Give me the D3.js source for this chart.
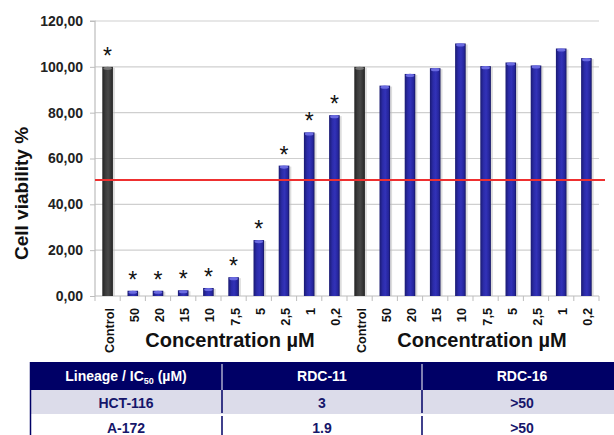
<!DOCTYPE html>
<html><head><meta charset="utf-8">
<script src="https://cdn.jsdelivr.net/npm/d3@7"></script>
<style>
body{margin:0;background:#fff;}
svg{display:block;font-family:"Liberation Sans",Arial,sans-serif;}
</style></head>
<body>
<svg id="c" width="614" height="435"></svg>
<script>
const categories = ["Control","50","20","15","10","7,5","5","2,5","1","0,2"];
const rdc11 = [100,2.3,2.3,2.5,3.5,8.2,24.4,56.9,71.4,78.9];
const rdc16 = [100,91.8,96.9,99.4,110.2,100.3,101.9,100.6,108.0,103.8];
const stars11 = [true,true,true,true,true,true,true,true,true,true];
const yTicks = [0,20,40,60,80,100,120];
const ic50Line = 50.6;
const groupTitle = "Concentration µM";
const tableHeader = ["Lineage / IC", "RDC-11", "RDC-16"];
const tableRows = [["HCT-116","3",">50"],["A-172","1.9",">50"]];

const svg = d3.select("#c");
const m = {l:95, r:599, t:21, b:296};

const items = [];
categories.forEach((c,i)=>items.push({key:"a"+i,cat:c,v:rdc11[i],star:stars11[i],ctrl:i===0}));
categories.forEach((c,i)=>items.push({key:"b"+i,cat:c,v:rdc16[i],star:false,ctrl:i===0}));

const x = d3.scaleBand().domain(items.map(d=>d.key)).range([m.l,m.r]).paddingInner(0.58).paddingOuter(0.29);
const xb = d3.scaleBand().domain(items.map(d=>d.key)).range([m.l,m.r]);
const y = d3.scaleLinear().domain([0,120]).range([m.b,m.t]);

const defs = svg.append("defs");
function grad(id, stops){
  const g = defs.append("linearGradient").attr("id",id).attr("x1","0").attr("x2","1").attr("y1","0").attr("y2","0");
  stops.forEach(s=>g.append("stop").attr("offset",s[0]).attr("stop-color",s[1]));
}
grad("gBlue",[[0,"#1a1a72"],[0.3,"#2b2ba8"],[0.55,"#3232b8"],[0.85,"#24249a"],[1,"#15155e"]]);
grad("gGray",[[0,"#222"],[0.3,"#3c3c3c"],[0.55,"#484848"],[0.85,"#333"],[1,"#1c1c1c"]]);

// gridlines
svg.append("g").selectAll("line").data(yTicks.filter(t=>t>0)).join("line")
  .attr("x1",m.l).attr("x2",m.r).attr("y1",d=>y(d)).attr("y2",d=>y(d))
  .attr("stroke","#cfcfcf").attr("stroke-width",1.2);

// y axis
const ya = svg.append("g").attr("transform",`translate(${m.l},0)`)
  .call(d3.axisLeft(y).tickValues(yTicks).tickSize(5).tickPadding(7).tickFormat(d=>d3.format(".2f")(d).replace(".",",")));
ya.attr("font-size",null).attr("font-family",null);
ya.select(".domain").attr("stroke","#bdbdbd").attr("stroke-width",1.2).attr("d",`M-5,${m.t}H0V${m.b}`);
ya.selectAll(".tick line").attr("stroke","#bdbdbd");
ya.selectAll(".tick text").style("font-size","14px").style("font-weight","bold").attr("fill","#222")
  .style("font-family","'Liberation Sans', Arial, sans-serif");

// x axis
const xa = svg.append("g").attr("transform",`translate(0,${m.b})`);
xa.append("line").attr("x1",m.l).attr("x2",m.r).attr("y1",0).attr("y2",0).attr("stroke","#bdbdbd").attr("stroke-width",1.2);
xa.selectAll("line.tk").data(d3.range(21)).join("line").attr("class","tk")
  .attr("x1",i=>m.l+i*xb.bandwidth()).attr("x2",i=>m.l+i*xb.bandwidth()).attr("y1",0).attr("y2",5)
  .attr("stroke","#bdbdbd");
xa.selectAll("text").data(items).join("text")
  .attr("transform",d=>`translate(${xb(d.key)+xb.bandwidth()/2+1.5},12) rotate(-90)`)
  .attr("text-anchor","end").attr("dy","0.35em")
  .style("font-size","12.7px").style("font-weight","bold").attr("fill","#111")
  .text(d=>d.cat);

// bars
const bars = svg.append("g");
bars.selectAll("rect.sh").data(items).join("rect").attr("class","sh")
  .attr("x",d=>x(d.key)+2).attr("y",d=>y(d.v)+1).attr("width",x.bandwidth()).attr("height",d=>m.b-y(d.v)-1)
  .attr("fill","#bbb").attr("opacity",0.5);
bars.selectAll("rect.b").data(items).join("rect").attr("class","b")
  .attr("x",d=>x(d.key)).attr("y",d=>y(d.v)).attr("width",x.bandwidth()).attr("height",d=>m.b-y(d.v))
  .attr("fill",d=>d.ctrl?"url(#gGray)":"url(#gBlue)");
bars.selectAll("ellipse").data(items).join("ellipse")
  .attr("cx",d=>x(d.key)+x.bandwidth()/2).attr("cy",d=>y(d.v)+1.5)
  .attr("rx",x.bandwidth()/2-1).attr("ry",1.6)
  .attr("fill",d=>d.ctrl?"#777":"#6a6ae0");

// stars
svg.append("g").selectAll("text").data(items.filter(d=>d.star)).join("text")
  .attr("x",d=>x(d.key)+x.bandwidth()/2).attr("y",d=>y(d.v)-3)
  .attr("text-anchor","middle").style("font-size","23px").attr("fill","#111")
  .text("*");

// red line
svg.append("line").attr("x1",m.l).attr("x2",605).attr("y1",y(ic50Line)).attr("y2",y(ic50Line))
  .attr("stroke","#ee3030").attr("stroke-width",2);

// y title
svg.append("text").attr("transform",`translate(28,${(127+260)/2}) rotate(-90)`)
  .attr("text-anchor","middle").style("font-size","19px").style("font-weight","bold").attr("fill","#111")
  .text("Cell viability %");

// group titles
[0,1].forEach(g=>{
  const k0 = items[g*10].key, k1 = items[g*10+9].key;
  const cx = (xb(k0)+xb(k1)+xb.bandwidth())/2 + 9;
  svg.append("text").attr("x",cx).attr("y",347).attr("text-anchor","middle")
    .style("font-size","20px").style("font-weight","bold").attr("fill","#111").text(groupTitle);
});

// table
const cols = [30,222,422,622];
const tb = svg.append("g");
const hy0=362, hy1=390, r1=414, r2=440;
tb.append("rect").attr("x",cols[0]).attr("y",hy0).attr("width",cols[3]-cols[0]).attr("height",hy1-hy0).attr("fill","#000066");
tb.append("rect").attr("x",cols[0]).attr("y",hy1).attr("width",cols[3]-cols[0]).attr("height",r1-hy1).attr("fill","#dcdcea");
tb.append("rect").attr("x",cols[0]).attr("y",r1+1).attr("width",cols[3]-cols[0]).attr("height",r2-r1).attr("fill","#fff");
tb.append("line").attr("x1",cols[0]+0.5).attr("x2",cols[0]+0.5).attr("y1",hy0).attr("y2",435).attr("stroke","#000066").attr("stroke-width",1.5);
[cols[1],cols[2]].forEach(cx=>{
  tb.append("line").attr("x1",cx).attr("x2",cx).attr("y1",hy0+2).attr("y2",hy1).attr("stroke","#fff").attr("stroke-width",1);
  tb.append("line").attr("x1",cx).attr("x2",cx).attr("y1",hy1).attr("y2",r1-1).attr("stroke","#000066").attr("stroke-width",1.5);
  tb.append("line").attr("x1",cx).attr("x2",cx).attr("y1",r1+2).attr("y2",435).attr("stroke","#000066").attr("stroke-width",1.5);
});
const colC = i=>(cols[i]+cols[i+1])/2;
const h0 = tb.append("text").attr("x",colC(0)).attr("y",hy0+19).attr("text-anchor","middle")
  .style("font-size","14px").style("font-weight","bold").attr("fill","#fff");
h0.append("tspan").text(tableHeader[0]);
h0.append("tspan").style("font-size","9px").attr("dy",3).text("50");
h0.append("tspan").attr("dy",-3).text(" (µM)");
[1,2].forEach(i=>tb.append("text").attr("x",colC(i)).attr("y",hy0+19).attr("text-anchor","middle")
  .style("font-size","14px").style("font-weight","bold").attr("fill","#fff").text(tableHeader[i]));
tableRows.forEach((row,ri)=>{
  const yy = ri===0 ? hy1+18 : r1+19;
  row.forEach((c,ci)=>tb.append("text").attr("x",colC(ci)).attr("y",yy).attr("text-anchor","middle")
    .style("font-size","14px").style("font-weight","bold").attr("fill","#16166a").text(c));
});
</script>
</body></html>
